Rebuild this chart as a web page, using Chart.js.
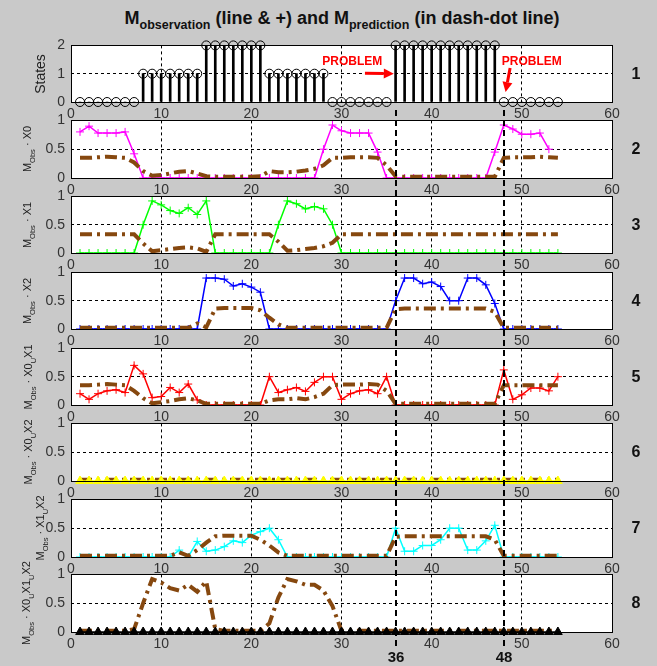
<!DOCTYPE html>
<html>
<head>
<meta charset="utf-8">
<script src="https://cdn.jsdelivr.net/npm/chart.js@4.4.1/dist/chart.umd.min.js"></script>
<style>
  html, body { margin: 0; padding: 0; }
  body {
    width: 657px; height: 666px; position: relative; overflow: hidden;
    background: #c9c9c9; color: #111;
    font-family: 'Liberation Sans', Arial, Helvetica, sans-serif;
  }
  canvas { position: absolute; left: 0; }
  .title {
    position: absolute; top: 8px; left: 342px; transform: translateX(-50%);
    font-size: 18px; font-weight: bold; white-space: nowrap;
  }
  .title sub { font-size: 12.5px; }
  .ylab {
    position: absolute; transform: translate(-50%, -50%) rotate(-90deg);
    white-space: nowrap; font-size: 11px; color: #222; z-index: 5;
  }
  .ylab sub { font-size: 7.5px; }
  .pnum {
    position: absolute; transform: translate(-50%, -50%);
    font-size: 16px; font-weight: bold; color: #111;
  }
</style>
</head>
<body>
<div class="title">M<sub>observation</sub> (line &amp; +) and M<sub>prediction</sub> (in dash-dot line)</div>
<script>
// Data
const samples = [1,2,3,4,5,6,7,8,9,10,11,12,13,14,15,16,17,18,19,20,21,22,23,24,25,26,27,
                 28,29,30,31,32,33,34,35,36,37,38,39,40,41,42,43,44,45,46,47,48,49,50,51,52,53,54];

const states = [0,0,0,0,0,0,0, 1,1,1,1,1,1,1, 2,2,2,2,2,2,2, 1,1,1,1,1,1,1,
                0,0,0,0,0,0,0, 2,2,2,2,2,2,2,2,2,2,2,2, 0,0,0,0,0,0,0];

const obsX0 = [0.80,0.90,0.78,0.78,0.78,0.80,0.42, 0,0,0,0,0,0,0,0,0,0,0,0,0,0,0,0,0,0,0,0,
               0.50,0.92,0.82,0.78,0.78,0.78,0.45, 0,0,0,0,0,0,0,0,0,0,0,0,
               0.45,0.92,0.85,0.76,0.76,0.78,0.50];
const predX0 = [0.35,0.35,0.36,0.37,0.36,0.35,0.27,0.12,0.04,0.05,0.08,0.11,0.12,0.08,0.03,
                0.02,0.02,0.02,0.02,0.02,0.03,0.12,0.10,0.10,0.11,0.13,0.16,0.22,0.35,0.35,
                0.36,0.36,0.36,0.35,0.22,0.03,0.02,0.02,0.02,0.02,0.02,0.02,0.02,0.02,0.02,
                0.02,0.02,0.35,0.36,0.36,0.36,0.37,0.36,0.35];

const obsX1 = [0,0,0,0,0,0,0, 0.50,0.92,0.85,0.75,0.70,0.80,0.68,0.92, 0,0,0,0,0,0,0,
               0.50,0.92,0.87,0.78,0.82,0.78,0.50,
               0,0,0,0,0,0,0,0,0,0,0,0,0,0,0,0,0,0,0,0,0,0,0,0,0];
const predX1 = [0.33,0.33,0.33,0.33,0.33,0.33,0.33,0.17,0.03,0.05,0.07,0.09,0.10,0.08,0.02,
                0.33,0.33,0.33,0.33,0.33,0.33,0.33,0.20,0.04,0.05,0.07,0.09,0.12,0.18,0.33,
                0.33,0.33,0.33,0.33,0.33,0.33,0.33,0.33,0.33,0.33,0.33,0.33,0.33,0.33,0.33,
                0.33,0.33,0.33,0.33,0.33,0.33,0.33,0.33,0.33];

const obsX2 = [0,0,0,0,0,0,0,0,0,0,0,0,0,0, 0.90,0.90,0.88,0.76,0.80,0.74,0.65,
               0,0,0,0,0,0,0,0,0,0,0,0,0,0,
               0.50,0.90,0.90,0.80,0.83,0.75,0.50,0.50,0.90,0.90,0.78,0.45,
               0,0,0,0,0,0,0];
const predX2 = [0.02,0.02,0.02,0.02,0.02,0.02,0.02,0.02,0.02,0.02,0.02,0.02,0.02,0.10,0.03,
                0.36,0.37,0.37,0.37,0.37,0.33,0.20,0.08,0.02,0.02,0.02,0.02,0.02,0.02,0.02,
                0.02,0.02,0.02,0.02,0.02,0.35,0.36,0.36,0.36,0.36,0.36,0.36,0.36,0.36,0.36,
                0.36,0.30,0.02,0.02,0.02,0.02,0.02,0.02,0.02];

const obsX01 = [0.20,0.10,0.20,0.25,0.27,0.22,0.70,0.55,0.13,0.15,0.31,0.22,0.37,0.09,
                0,0,0,0,0,0,0,
                0.50,0.22,0.27,0.31,0.24,0.40,0.50,0.50,0.10,0.20,0.25,0.27,0.20,0.50,
                0,0,0,0,0,0,0,0,0,0,0,0,
                0.62,0.10,0.18,0.30,0.30,0.25,0.50];
const predX01 = [0.35,0.35,0.36,0.37,0.36,0.35,0.25,0.12,0.03,0.05,0.07,0.10,0.12,0.08,
                 0.02,0.02,0.02,0.02,0.02,0.02,0.02,0.08,0.10,0.10,0.12,0.10,0.14,0.20,
                 0.35,0.36,0.36,0.36,0.37,0.36,0.25,0.02,0.02,0.02,0.02,0.02,0.02,0.02,
                 0.02,0.02,0.02,0.02,0.02,0.35,0.35,0.35,0.35,0.35,0.35,0.35];

const obsX02 = [0,0,0,0,0,0,0,0,0,0,0,0,0,0,0,0,0,0,0,0,0,0,0,0,0,0,0,
                0,0,0,0,0,0,0,0,0,0,0,0,0,0,0,0,0,0,0,0,0,0,0,0,0,0,0];
const predX02 = [0.02,0.02,0.02,0.02,0.02,0.02,0.02,0.02,0.02,0.02,0.02,0.02,0.02,0.02,
                 0.02,0.02,0.02,0.02,0.02,0.02,0.02,0.02,0.02,0.02,0.02,0.02,0.02,0.02,
                 0.02,0.02,0.02,0.02,0.02,0.02,0.02,0.02,0.02,0.02,0.02,0.02,0.02,0.02,
                 0.02,0.02,0.02,0.02,0.02,0.02,0.02,0.02,0.02,0.02,0.02,0.02];

const obsX12 = [0,0,0,0,0,0,0,0,0,0,0,
                0.12,0,0.27,0.10,0.12,0.18,0.28,0.25,0.38,0.44,0.50,0.30,
                0,0,0,0,0,0,0,0,0,0,0,0,
                0.50,0.10,0.10,0.20,0.20,0.30,0.50,0.50,0.12,0.12,0.28,0.55,
                0,0,0,0,0,0,0];
const predX12 = [0.02,0.02,0.02,0.02,0.02,0.02,0.02,0.02,0.02,0.02,0.02,0.08,0.02,0.12,
                 0.25,0.36,0.37,0.37,0.37,0.37,0.30,0.20,0.08,0.02,0.02,0.02,0.02,0.02,
                 0.02,0.02,0.02,0.02,0.02,0.02,0.02,0.35,0.36,0.36,0.36,0.36,0.36,0.36,
                 0.36,0.36,0.36,0.36,0.30,0.02,0.02,0.02,0.02,0.02,0.02,0.02];

const obsX012 = [0,0,0,0,0,0,0,0,0,0,0,0,0,0,0,0,0,0,0,0,0,0,0,0,0,0,0,
                 0,0,0,0,0,0,0,0,0,0,0,0,0,0,0,0,0,0,0,0,0,0,0,0,0,0,0];
const predX012 = [0.02,0.02,0.02,0.02,0.02,0.02,0.05,0.50,0.92,0.86,0.76,0.72,0.82,0.70,
                  0.88,0.05,0.02,0.02,0.02,0.02,0.02,0.15,0.60,0.92,0.88,0.82,0.82,0.72,
                  0.45,0.02,0.02,0.02,0.02,0.02,0.02,0.02,0.02,0.02,0.02,0.02,0.02,0.02,
                  0.02,0.02,0.02,0.02,0.02,0.02,0.02,0.02,0.02,0.02,0.02,0.02];

const problemSamples = [36, 48];
const problemNotes = [
    { text: 'PROBLEM', x: 31.2, y: 1.42, from: [32.6, 1.02], to: [35.8, 1.0] },
    { text: 'PROBLEM', x: 51.1, y: 1.42, from: [48.7, 1.2], to: [48.2, 0.35] }
];

const yLabels = [
    'States',
    'M<sub>Obs</sub> · X0',
    'M<sub>Obs</sub> · X1',
    'M<sub>Obs</sub> · X2',
    'M<sub>Obs</sub> · X0<sub>U</sub>X1',
    'M<sub>Obs</sub> · X0<sub>U</sub>X2',
    'M<sub>Obs</sub> · X1<sub>U</sub>X2',
    'M<sub>Obs</sub> · X0<sub>U</sub>X1<sub>U</sub>X2'
];

// Layout of the panels (page pixels)
const layout = [
    { top: 45,  bottom: 102, labX: 40 },
    { top: 120, bottom: 178, labX: 29 },
    { top: 196, bottom: 253, labX: 29 },
    { top: 272, bottom: 329, labX: 29 },
    { top: 348, bottom: 405, labX: 30 },
    { top: 423, bottom: 481, labX: 30 },
    { top: 499, bottom: 557, labX: 42 },
    { top: 574, bottom: 632, labX: 28 }
];

const BROWN = '#86480f';
Chart.defaults.font.family = "'Liberation Sans', Arial, Helvetica, sans-serif";

const toPoints = vals => samples.map((x, i) => ({ x: x, y: vals[i] }));

function obsLine(vals, color, marker, size) {
    const tri = marker === 'triangle';
    return {
        type: 'line', data: toPoints(vals), borderColor: color, backgroundColor: color,
        borderWidth: 1.5, tension: 0, pointStyle: marker, pointRadius: size || 4,
        pointBorderColor: color, pointBackgroundColor: color, pointBorderWidth: 1,
        clip: tri ? false : undefined, order: tri ? -1 : 1
    };
}

function predLine(vals) {
    return {
        type: 'line', data: toPoints(vals), borderColor: BROWN, borderWidth: 4,
        borderDash: [12, 5, 3, 5], pointRadius: 0, tension: 0, order: 0
    };
}

const framePlugin = {
    id: 'frame',
    beforeDraw(chart) {
        const { ctx, chartArea: a } = chart;
        ctx.save();
        ctx.fillStyle = '#fff';
        ctx.fillRect(a.left, a.top, a.right - a.left, a.bottom - a.top);
        ctx.restore();
    },
    afterDraw(chart, args, opts) {
        const { ctx, chartArea: a, scales } = chart;
        ctx.save();
        ctx.strokeStyle = '#000';
        ctx.lineWidth = 1;
        ctx.setLineDash([]);
        ctx.strokeRect(Math.round(a.left) + 0.5, Math.round(a.top) + 0.5,
                       Math.round(a.right - a.left), Math.round(a.bottom - a.top));

        // problem notes (panel 1)
        (opts.notes || []).forEach(n => {
            const tx = scales.x.getPixelForValue(n.x), ty = scales.y.getPixelForValue(n.y);
            ctx.fillStyle = '#ff0000';
            ctx.font = "bold 12px 'Liberation Sans', Arial, sans-serif";
            ctx.textAlign = 'center';
            ctx.textBaseline = 'middle';
            ctx.fillText(n.text, tx, ty);
            const x0 = scales.x.getPixelForValue(n.from[0]), y0 = scales.y.getPixelForValue(n.from[1]);
            const x1 = scales.x.getPixelForValue(n.to[0]), y1 = scales.y.getPixelForValue(n.to[1]);
            const ang = Math.atan2(y1 - y0, x1 - x0);
            const head = 10;
            ctx.strokeStyle = '#ff0000';
            ctx.lineWidth = 3;
            ctx.beginPath();
            ctx.moveTo(x0, y0);
            ctx.lineTo(x1 - head * Math.cos(ang), y1 - head * Math.sin(ang));
            ctx.stroke();
            ctx.beginPath();
            ctx.moveTo(x1, y1);
            ctx.lineTo(x1 - head * Math.cos(ang) + 5 * Math.sin(ang), y1 - head * Math.sin(ang) - 5 * Math.cos(ang));
            ctx.lineTo(x1 - head * Math.cos(ang) - 5 * Math.sin(ang), y1 - head * Math.sin(ang) + 5 * Math.cos(ang));
            ctx.closePath();
            ctx.fill();
        });

        // dashed marks at the problem samples
        if (opts.lineTo > opts.lineFrom) {
            ctx.strokeStyle = '#000';
            ctx.lineWidth = 2;
            ctx.setLineDash([6, 4]);
            ctx.lineDashOffset = opts.canvasTop + opts.lineFrom;
            problemSamples.forEach(v => {
                const px = Math.round(scales.x.getPixelForValue(v));
                ctx.beginPath();
                ctx.moveTo(px, opts.lineFrom);
                ctx.lineTo(px, opts.lineTo);
                ctx.stroke();
                if (opts.showValues) {
                    ctx.fillStyle = '#111';
                    ctx.font = "bold 15px 'Liberation Sans', Arial, sans-serif";
                    ctx.textAlign = 'center';
                    ctx.textBaseline = 'middle';
                    ctx.fillText(String(v), px, opts.valueY);
                }
            });
        }
        ctx.restore();
    }
};

function makePanel(i, datasets, yMax, yStep) {
    const L = layout[i];
    const last = i === layout.length - 1;
    const cTop = L.top - 14;
    const cBottom = last ? 666 : L.bottom + 24;
    const h = cBottom - cTop;
    const canvas = document.createElement('canvas');
    canvas.width = 657;
    canvas.height = h;
    canvas.style.top = cTop + 'px';
    document.body.appendChild(canvas);

    const lab = document.createElement('div');
    lab.className = 'ylab';
    lab.innerHTML = yLabels[i];
    lab.style.left = L.labX + 'px';
    lab.style.top = ((L.top + L.bottom) / 2) + 'px';
    if (i === 0) lab.style.fontSize = '14px';
    document.body.appendChild(lab);

    const num = document.createElement('div');
    num.className = 'pnum';
    num.textContent = String(i + 1);
    num.style.left = '636px';
    num.style.top = ((L.top + L.bottom) / 2) + 'px';
    document.body.appendChild(num);

    return new Chart(canvas, {
        type: 'line',
        data: { datasets: datasets },
        options: {
            responsive: false,
            animation: false,
            events: [],
            layout: { padding: { top: 14, right: 45, left: 0, bottom: 0 } },
            plugins: {
                legend: { display: false },
                tooltip: { enabled: false },
                frame: {
                    canvasTop: cTop,
                    lineFrom: i === 0 ? L.bottom + 6 - cTop : 0,
                    lineTo: last ? 650 - cTop : h,
                    showValues: last,
                    valueY: 658 - cTop,
                    notes: i === 0 ? problemNotes : []
                }
            },
            scales: {
                x: {
                    type: 'linear', min: 0, max: 60, offset: false,
                    ticks: { stepSize: 10, padding: 4, color: '#333', font: { size: 14 }, maxRotation: 0, autoSkip: false },
                    grid: { color: '#000', lineWidth: 1, drawTicks: false, offset: false },
                    border: { display: false, dash: [3, 3] },
                    afterFit: s => { s.height = cBottom - L.bottom; }
                },
                y: {
                    type: 'linear', min: 0, max: yMax,
                    ticks: { stepSize: yStep, padding: 6, color: '#333', font: { size: 14 },
                             callback: v => String(v) },
                    grid: { color: '#000', lineWidth: 1, drawTicks: false },
                    border: { display: false, dash: [3, 3] },
                    afterFit: s => { s.width = 71; }
                }
            }
        },
        plugins: [framePlugin]
    });
}

// Panel 1: states as stems
makePanel(0, [
    { type: 'bar', data: toPoints(states), backgroundColor: '#000', barThickness: 2, order: 2 },
    { type: 'line', data: toPoints(states), showLine: false, pointStyle: 'circle', pointRadius: 4.5,
      pointBorderColor: '#000', pointBackgroundColor: 'rgba(0,0,0,0)', pointBorderWidth: 1,
      clip: false, order: 1 }
], 2, 1);

makePanel(1, [obsLine(obsX0, '#ff00ff', 'cross'), predLine(predX0)], 1, 0.5);
makePanel(2, [obsLine(obsX1, '#00ff00', 'cross'), predLine(predX1)], 1, 0.5);
makePanel(3, [obsLine(obsX2, '#0000ff', 'cross'), predLine(predX2)], 1, 0.5);
makePanel(4, [obsLine(obsX01, '#ff0000', 'cross'), predLine(predX01)], 1, 0.5);
makePanel(5, [obsLine(obsX02, '#ffff00', 'triangle', 5), predLine(predX02)], 1, 0.5);
makePanel(6, [obsLine(obsX12, '#00ffff', 'cross'), predLine(predX12)], 1, 0.5);
makePanel(7, [obsLine(obsX012, '#000000', 'triangle', 5), predLine(predX012)], 1, 0.5);
</script>
</body>
</html>
